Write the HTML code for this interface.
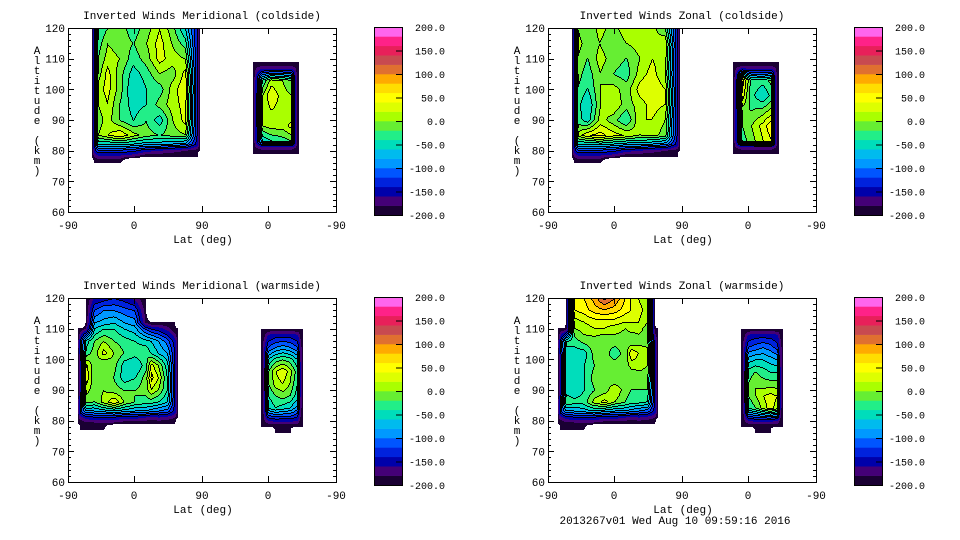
<!DOCTYPE html>
<html><head><meta charset="utf-8">
<style>
html,body{margin:0;padding:0;background:#fff;}
svg{display:block;}
text{font-family:"Liberation Mono","DejaVu Sans Mono",monospace;font-size:11px;fill:#000;}
.tick{font-size:11px;}
.cbl{font-size:10px;}
</style></head>
<body>
<svg id="root" width="960" height="540" viewBox="0 0 960 540">
<text x="675" y="524" text-anchor="middle">2013267v01 Wed Aug 10 09:59:16 2016</text>
</svg>
<script>
const N = -320;
const levelColors = ["#1a0033","#440077","#0000aa","#0022dd","#0055ff","#0099ff","#00bbee","#00ddbb","#22ee88","#66ee33","#aaff00","#ddff00","#ffff00","#ffdd00","#ffaa00","#e07030","#c84a50","#e8205a","#ff2288","#ff66ee"];
const colorbarLabels = ["200.0","150.0","100.0","50.0","0.0","-50.0","-100.0","-150.0","-200.0"];
const xTickLabels = ["-90","0","90","0","-90"];
const yTickValues = [60,70,80,90,100,110,120];
const panelTitles = ["Inverted Winds Meridional (coldside)","Inverted Winds Zonal (coldside)","Inverted Winds Meridional (warmside)","Inverted Winds Zonal (warmside)"];

const coldLeftLats = [-58,-55,-50,-37,-20,-2,15,33,50,68,84,87];
const coldLeftAlts = [120,115,110,105,100,95,90,85,82,80,78,76];
const meridColdLeft = [
[-200,-140,-40,-20,-10,-30,-10,20,-10,-60,-140,-200],
[-200,-140,-30,0,-10,-20,0,30,0,-30,-140,-200],
[-200,-140,-20,10,0,-30,-10,30,10,0,-140,-200],
[-200,-140,-10,30,-10,-50,-30,0,-10,30,-140,-200],
[-200,-140,10,30,-10,-60,-40,-30,10,40,-140,-200],
[-200,-140,0,20,-20,-50,-40,-10,10,30,-140,-200],
[-200,-140,-10,10,-20,-40,-20,-50,0,30,-140,-200],
[-200,-140,0,20,40,10,-10,-20,-10,0,-140,-200],
[-200,-140,-60,-60,-50,-60,-70,-70,-80,-90,-150,-200],
[-200,-150,-120,-120,-120,-130,-150,-160,-170,-180,-190,-200],
[-200,-180,-170,-170,-170,-180,-200,-200,-200,-200,-200,N],
[N,-200,-200,-200,-200,N,N,N,N,N,N,N]];
const zonalColdLeft = [
[-200,-140,0,-20,10,-10,20,0,10,-20,-140,-200],
[-200,-140,10,-10,0,-20,0,10,0,20,-140,-200],
[-200,-140,0,-20,10,-10,-20,0,20,10,-140,-200],
[-200,-140,-10,-30,0,-20,-30,10,30,0,-140,-200],
[-200,-140,-20,-40,0,10,-10,30,40,20,-140,-200],
[-200,-140,-30,-60,0,20,-10,10,30,20,-140,-200],
[-200,-140,-30,-50,10,-10,-40,20,20,0,-140,-200],
[-200,-140,10,40,50,30,20,0,10,-10,-140,-200],
[-200,-140,-60,-60,-50,-60,-70,-70,-80,-90,-150,-200],
[-200,-150,-120,-120,-120,-130,-150,-160,-170,-180,-190,-200],
[-200,-180,-170,-170,-170,-180,-200,-200,-200,-200,-200,N],
[N,-200,-200,-200,-200,N,N,N,N,N,N,N]];

const coldRightLats = [20,16,8,-4,-20,-32,-37,-41];
const coldRightAlts = [109,107,103,98,93,88,83,81,79];
const meridColdRight = [
[-200,-200,-200,-200,-200,-200,-200,-200],
[-200,-180,-170,-170,-170,-170,-180,-200],
[-200,-150,-40,10,0,-20,-150,-200],
[-200,-150,0,40,10,0,-150,-200],
[-200,-150,0,20,10,0,-150,-200],
[-200,-150,0,10,10,30,-150,-200],
[-200,-150,-60,-40,-30,-20,-150,-200],
[-200,-180,-170,-170,-170,-170,-180,-200],
[-200,-200,-200,-200,-200,-200,-200,-200]];
const zonalColdRight = [
[-200,-200,-200,-200,-200,-200,-200,-200],
[-200,-180,-170,-170,-170,-170,-180,-200],
[-200,-150,60,-20,-30,-10,-150,-200],
[-200,-150,40,-30,-60,-30,-150,-200],
[-200,-150,-10,-20,-10,10,-150,-200],
[-200,-150,-20,0,30,60,-150,-200],
[-200,-150,-30,-10,20,40,-150,-200],
[-200,-180,-170,-170,-170,-170,-180,-200],
[-200,-200,-200,-200,-200,-200,-200,-200]];

const warmLeftLats = [-77,-74,-66,-55,-42,-28,-14,0,14,22,32,44,54,58];
const warmLeftAlts = [120,116,112,110,106,102,98,94,90,86,83,81,79,77];
const meridWarmLeft = [
[N,N,-200,-160,-150,-140,-150,-170,-200,N,N,N,N,N],
[N,N,-200,-120,-100,-100,-110,-120,-190,N,N,N,N,N],
[N,N,-200,-80,-70,-60,-80,-90,-180,-200,-200,-200,-200,N],
[-200,-200,-180,-60,-40,-40,-60,-70,-120,-140,-150,-170,-200,-200],
[-200,-140,-50,-20,0,-20,-30,-40,-50,-60,-80,-110,-150,-200],
[-200,-150,-30,-10,30,0,-20,-30,-20,-40,-60,-80,-140,-200],
[-200,-160,30,-10,-20,-10,-50,-60,-30,30,0,-50,-140,-200],
[-200,-160,40,-10,-10,-20,-50,-40,-10,50,20,-40,-140,-200],
[-200,-160,10,-10,0,-10,-20,-20,-10,20,0,-40,-140,-200],
[-200,-140,-10,-20,10,40,0,-20,-30,-30,-40,-60,-140,-200],
[-200,-130,-80,-80,-70,-60,-70,-80,-80,-90,-100,-110,-150,-200],
[-200,-170,-150,-140,-140,-140,-150,-150,-160,-170,-160,-170,-180,-200],
[-200,-200,-190,-190,-190,-190,-200,-200,-200,-200,-200,-200,-200,N],
[N,-200,-200,-200,-200,N,N,N,N,N,N,N,N,N]];
const zonalWarmLeft = [
[N,N,-200,40,60,90,130,100,60,40,20,0,-200,N],
[N,N,-200,40,50,70,80,70,50,40,30,10,-200,N],
[N,N,-200,10,20,30,30,30,20,20,20,0,-200,N],
[-200,-200,-200,0,10,20,20,10,0,10,10,-10,-200,-200],
[-200,-140,-40,-30,-10,-10,-20,-10,-10,-20,-10,-10,-150,-200],
[-200,-150,-40,-50,-50,-10,-10,-30,-10,40,20,10,-140,-200],
[-200,-160,-40,-50,-40,-20,-20,-10,-10,10,10,0,-140,-200],
[-200,-160,-50,-50,-40,-10,-10,-20,-20,-20,-10,-10,-140,-200],
[-200,-160,-50,-60,-40,-20,-10,20,-10,-20,-20,-20,-140,-200],
[-200,-140,-20,-30,-30,10,30,0,-20,-30,-30,-40,-140,-200],
[-200,-130,-80,-80,-70,-60,-70,-80,-80,-90,-100,-110,-150,-200],
[-200,-170,-150,-140,-140,-140,-150,-150,-160,-170,-160,-170,-180,-200],
[-200,-200,-190,-190,-190,-190,-200,-200,-200,-200,-200,-200,-200,N],
[N,-200,-200,-200,-200,N,N,N,N,N,N,N,N,N]];

const warmRightLats = [9,6,0,-10,-20,-30,-40,-44,-47];
const warmRightAlts = [110,108,104,100,96,92,88,84,80,78,76];
const meridWarmRight = [
[-200,-200,-200,-200,-200,-200,-200,-200,-200],
[-200,-190,-160,-150,-150,-150,-160,-190,-200],
[-200,-170,-120,-100,-90,-100,-120,-170,-200],
[-200,-170,-60,-30,-20,-30,-60,-170,-200],
[-200,-170,-20,20,40,10,-30,-170,-200],
[-200,-170,-20,10,20,0,-40,-170,-200],
[-200,-170,-40,-20,-10,-20,-50,-170,-200],
[-200,-170,-60,-40,-50,-60,-90,-170,-200],
[-200,-190,-160,-150,-150,-150,-160,-190,-200],
[-200,-200,-200,-200,-200,-200,-200,-200,-200],
[N,N,N,-200,-200,-200,N,N,N]];
const zonalWarmRight = [
[-200,-200,-200,-200,-200,-200,-200,-200,-200],
[-200,-190,-160,-150,-150,-150,-160,-190,-200],
[-200,-170,-120,-110,-100,-110,-130,-170,-200],
[-200,-170,-70,-60,-60,-70,-80,-170,-200],
[-200,-170,-30,-20,-30,-40,-40,-170,-200],
[-200,-170,-20,0,-10,-10,-10,-170,-200],
[-200,-170,-20,0,20,30,20,-170,-200],
[-200,-170,-40,-20,10,30,10,-170,-200],
[-200,-190,-160,-150,-150,-150,-160,-190,-200],
[-200,-200,-200,-200,-200,-200,-200,-200,-200],
[N,N,N,-200,-200,-200,N,N,N]];

const panels = [
 {ox:0,oy:0,left:[coldLeftLats,coldLeftAlts,meridColdLeft],right:[coldRightLats,coldRightAlts,meridColdRight]},
 {ox:480,oy:0,left:[coldLeftLats,coldLeftAlts,zonalColdLeft],right:[coldRightLats,coldRightAlts,zonalColdRight]},
 {ox:0,oy:270,left:[warmLeftLats,warmLeftAlts,meridWarmLeft],right:[warmRightLats,warmRightAlts,meridWarmRight]},
 {ox:480,oy:270,left:[warmLeftLats,warmLeftAlts,zonalWarmLeft],right:[warmRightLats,warmRightAlts,zonalWarmRight]}
];

const NS='http://www.w3.org/2000/svg';
const root=document.getElementById('root');
function mk(tag,attrs,parent){const e=document.createElementNS(NS,tag);for(const k in attrs)e.setAttribute(k,attrs[k]);(parent||root).appendChild(e);return e;}

const X0=68,X1=336,Y0=28,Y1=212;
function yScale(alt){return Y0+(120-alt)*(Y1-Y0)/60;}
function xLeft(lat){return X0+(lat+90)*67/90;}
function xRight(lat){return 268-lat*67/90;}
function invLeft(x){return (x-X0)*90/67-90;}
function invRight(x){return (268-x)*90/67;}
function yInv(y){return 120-(y-Y0)*60/(Y1-Y0);}

function interp(lats,alts,vals,lat,alt){
  const asc=lats[lats.length-1]>lats[0];
  let i=-1;
  for(let k=0;k<lats.length-1;k++){const a=lats[k],b=lats[k+1];if((asc&&lat>=a&&lat<=b)||(!asc&&lat<=a&&lat>=b)){i=k;break;}}
  let j=-1;
  for(let k=0;k<alts.length-1;k++){if(alt<=alts[k]&&alt>=alts[k+1]){j=k;break;}}
  if(i<0||j<0)return null;
  const v00=vals[j][i],v01=vals[j][i+1],v10=vals[j+1][i],v11=vals[j+1][i+1];
  const tx=(lat-lats[i])/(lats[i+1]-lats[i]);
  const ty=(alt-alts[j])/(alts[j+1]-alts[j]);
  return (v00*(1-tx)+v01*tx)*(1-ty)+(v10*(1-tx)+v11*tx)*ty;
}
function level(v){if(v<-205)return -1;let l=Math.floor((v+200)/20);return Math.max(0,Math.min(19,l));}

function drawBlock(g,block,xs,inv,ox,oy,name){
  const [lats,alts,vals]=block;
  const xa=lats.map(xs);const xmin=Math.floor(Math.min(...xa)),xmax=Math.ceil(Math.max(...xa));
  const ymin=Math.floor(yScale(alts[0])),ymax=Math.ceil(yScale(alts[alts.length-1]));
  const cols=xmax-xmin,rows=ymax-ymin;
  const L=[];
  for(let r=0;r<rows;r++){const row=[];for(let c=0;c<cols;c++){
    const v=interp(lats,alts,vals,inv(xmin+c+0.5),yInv(ymin+r+0.5));row.push(v===null?-1:level(v));}L.push(row);}
  const paths=levelColors.map(()=>'');
  let cont='';
  for(let r=0;r<rows;r++){let c=0;while(c<cols){const l=L[r][c];let e=c;while(e+1<cols&&L[r][e+1]===l)e++;
      if(l>=0)paths[l]+=`M${ox+xmin+c} ${oy+ymin+r}h${e-c+1}v1h-${e-c+1}z`;c=e+1;}}
  for(let r=0;r<rows;r++)for(let c=0;c<cols;c++){const l=L[r][c];if(l<3)continue;
    const x=ox+xmin+c,y=oy+ymin+r;
    if((c+1<cols&&L[r][c+1]>=0&&L[r][c+1]<l)||(c>0&&L[r][c-1]>=0&&L[r][c-1]<l)||
       (r+1<rows&&L[r+1][c]>=0&&L[r+1][c]<l)||(r>0&&L[r-1][c]>=0&&L[r-1][c]<l))
      cont+=`M${x} ${y}h1v1h-1z`;
  }
  const bg=mk('g',{},g);
  
  
  paths.forEach((d,i)=>{if(d){const p=mk('path',{d:d,fill:levelColors[i],'shape-rendering':'crispEdges'},bg);
    
    }});
  if(cont){const p=mk('path',{d:cont,fill:'#000','shape-rendering':'crispEdges'},bg);
    
    }
}

panels.forEach((P,pi)=>{
  const g=mk('g',{});
  
  
  const ox=P.ox,oy=P.oy;
  drawBlock(g,P.left,xLeft,invLeft,ox,oy,'contour-block-left');
  drawBlock(g,P.right,xRight,invRight,ox,oy,'contour-block-right');
  const fr=mk('rect',{x:ox+X0+0.5,y:oy+Y0+0.5,width:X1-X0,height:Y1-Y0,fill:'none',stroke:'#000','stroke-width':1},g);
  
  
  let td='';
  for(let a=60;a<=120;a+=2){const y=oy+Math.round(yScale(a))+0.5;const len=(a%10===0)?6:3;
    td+=`M${ox+X0} ${y}h${len}M${ox+X1} ${y}h-${len}`;}
  [X0,134,202,268,X1].forEach(x=>{td+=`M${ox+x+0.5} ${oy+Y1}v-6M${ox+x+0.5} ${oy+Y0}v6`;});
  const tp=mk('path',{d:td,stroke:'#000','stroke-width':1},g);
  
  
  yTickValues.forEach(v=>{const t=mk('text',{x:ox+65,y:oy+yScale(v)+4,'text-anchor':'end','class':'tick'},g);t.textContent=v;
    
    });
  [X0,134,202,268,X1].forEach((x,i)=>{const t=mk('text',{x:ox+x,y:oy+229,'text-anchor':'middle','class':'tick'},g);t.textContent=xTickLabels[i];
    
    });
  const xt=mk('text',{x:ox+203,y:oy+243,'text-anchor':'middle','class':'tick'},g);xt.textContent='Lat (deg)';
  
  
  const tt=mk('text',{x:ox+202,y:oy+19,'text-anchor':'middle'},g);tt.textContent=panelTitles[pi];
  
  
  const yt=mk('g',{},g);
  
  
  'Altitude (km)'.split('').forEach((ch,i)=>{const t=mk('text',{x:ox+37,y:oy+54+i*10,'text-anchor':'middle','class':'tick'},yt);t.textContent=ch;});
  const cb=mk('g',{},g);
  
  
  const cbx=ox+374,cby=oy+27,cbh=188,cbw=28;
  levelColors.forEach((c,i)=>{mk('rect',{x:cbx,y:cby+cbh-(i+1)*cbh/20,width:cbw,height:cbh/20+0.3,fill:c},cb);});
  mk('rect',{x:cbx+0.5,y:cby+0.5,width:cbw,height:cbh,fill:'none',stroke:'#000'},cb);
  colorbarLabels.forEach((lab,i)=>{const y=cby+i*cbh/8;
    if(i>0&&i<8)mk('path',{d:`M${cbx+cbw} ${y+0.5}h-6`,stroke:'#000'},cb);
    const t=mk('text',{x:ox+445,y:y+4,'text-anchor':'end','class':'cbl'},cb);t.textContent=lab;});
});
</script>
</body></html>
